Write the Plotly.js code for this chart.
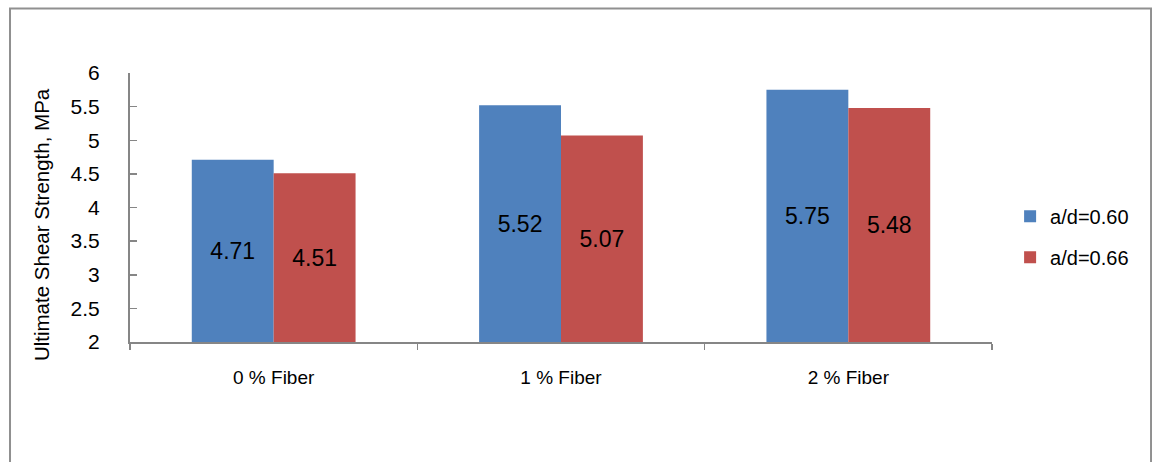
<!DOCTYPE html>
<html>
<head>
<meta charset="utf-8">
<script src="https://cdn.plot.ly/plotly-3.0.1.min.js"></script>
<style>html,body{margin:0;padding:0;background:#fff;}#chart{width:1152px;height:462px;}</style>
</head>
<body>
<div id="chart"></div>
<script>
var categories = ["0 % Fiber", "1 % Fiber", "2 % Fiber"];
var seriesNames = ["a/d=0.60", "a/d=0.66"];
var series060 = [4.71, 5.52, 5.75];
var series066 = [4.51, 5.07, 5.48];
var yAxisMin = 2;
var yTickVals = [2, 2.5, 3, 3.5, 4, 4.5, 5, 5.5, 6];
var yTickText = ["2", "2.5", "3", "3.5", "4", "4.5", "5", "5.5", "6"];
var yTitle = "Ultimate Shear Strength, MPa";

var fam = "Liberation Sans, Arial, sans-serif";

function mk(name, vals, color, grp) {
  return {
    type: "bar", name: name, x: categories,
    base: yAxisMin,
    y: vals.map(function(v){return v - yAxisMin;}),
    legendgroup: grp,
    marker: {color: color},
    text: vals.map(function(v){return v.toFixed(2);}),
    textposition: "inside", insidetextanchor: "middle",
    textfont: {family: fam, size: 23, color: "#000"}, constraintext: "none",
    hoverinfo: "skip"
  };
}

var data = [mk(seriesNames[0], series060, "#4F81BD", "g1"), mk(seriesNames[1], series066, "#C0504D", "g2")];

var layout = {
  width: 1152, height: 462,
  margin: {l: 130, r: 160, t: 73, b: 120},
  paper_bgcolor: "#fff", plot_bgcolor: "#fff",
  barmode: "group", bargap: 0.43, bargroupgap: 0,
  showlegend: true,
  legend: {x: 1.021, y: 0.391, xanchor: "left", yanchor: "middle",
           font: {family: fam, size: 20, color: "#000"},
           traceorder: "grouped", tracegroupgap: 12, bgcolor: "rgba(0,0,0,0)"},
  xaxis: {
    type: "category", showline: true, linecolor: "#868686", linewidth: 2,
    ticks: "outside", tickson: "boundaries", ticklen: 6, tickcolor: "#868686", tickwidth: 1.5,
    tickfont: {family: fam, size: 19, color: "#000"}, ticklabelstandoff: 17,
    showgrid: false, zeroline: false
  },
  yaxis: {
    range: [2, 6], tickvals: yTickVals, ticktext: yTickText,
    showline: true, linecolor: "#868686", linewidth: 2,
    ticks: "inside", ticklen: 7, tickcolor: "#868686", tickwidth: 1.5,
    tickfont: {family: fam, size: 21, color: "#000"}, ticklabelstandoff: 24,
    showgrid: false, zeroline: false
  },
  annotations: [{
    text: yTitle, xref: "paper", yref: "paper", x: -0.102, y: 0.435,
    xanchor: "center", yanchor: "middle", textangle: -90, showarrow: false,
    font: {family: fam, size: 20.5, color: "#000"}
  }],
  shapes: [{
    type: "rect", xref: "paper", yref: "paper",
    x0: -0.1392, x1: 1.1845, y0: -0.6, y1: 1.2397,
    line: {color: "#909090", width: 2}, fillcolor: "rgba(0,0,0,0)", layer: "below"
  }]
};

Plotly.newPlot("chart", data, layout, {displayModeBar: false, staticPlot: true});
</script>
</body>
</html>
